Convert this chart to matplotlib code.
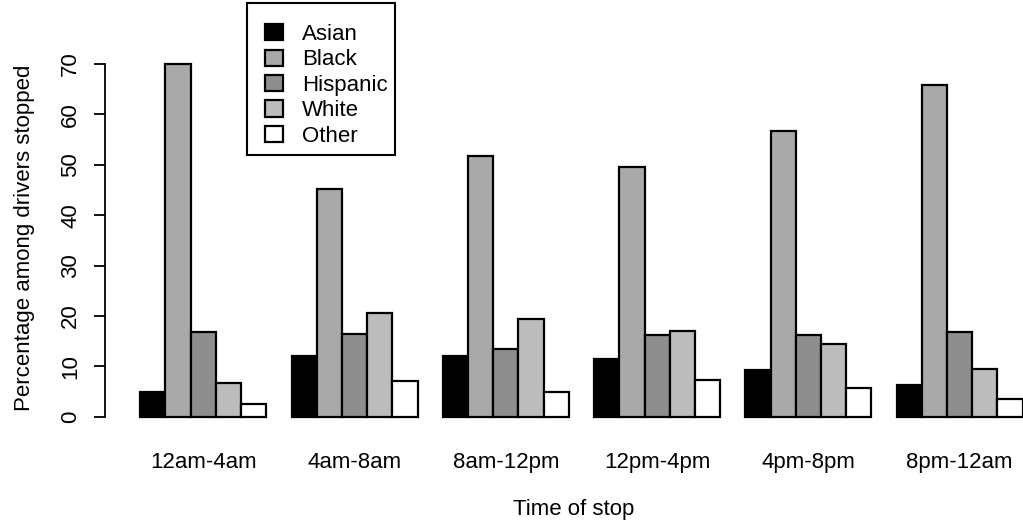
import matplotlib
matplotlib.use("Agg")
import matplotlib.pyplot as plt
from matplotlib.patches import Rectangle
import numpy as np

plt.rcParams["font.family"] = ["Liberation Sans", "DejaVu Sans"]

# Data
time_slots = ["12am-4am", "4am-8am", "8am-12pm", "12pm-4pm", "4pm-8pm", "8pm-12am"]
groups = ["Asian", "Black", "Hispanic", "White", "Other"]
asian = [5.0, 12.0, 12.1, 11.5, 9.3, 6.4]
black = [70.0, 45.3, 51.8, 49.5, 56.7, 65.8]
hispanic = [16.8, 16.5, 13.5, 16.3, 16.2, 16.8]
white = [6.8, 20.6, 19.5, 17.0, 14.4, 9.5]
other = [2.6, 7.2, 5.0, 7.3, 5.8, 3.6]
series = [asian, black, hispanic, white, other]
colors = ["black", "#a9a9a9", "#8e8e8e", "#bcbcbc", "white"]

FS = 16
W, H = 1023, 529

fig = plt.figure(figsize=(W / 100, H / 100), dpi=100)
ax = fig.add_axes([0.1026, 0.1853, 0.9316, 0.7221])

# R-style layout: bars of width 1, one blank unit between groups
n = len(groups)
base = 1 + np.arange(len(time_slots)) * (n + 1)
handles = []
for k, (name, vals, col) in enumerate(zip(groups, series, colors)):
    h = ax.bar(base + k, vals, width=1, align="edge", color=col,
               edgecolor="black", linewidth=1.6, label=name)
    handles.append(h)

ax.set_xlim(-0.4, 37.4)
ax.set_ylim(-2.8, 73)

for s in ["top", "right", "bottom"]:
    ax.spines[s].set_visible(False)
ax.spines["left"].set_bounds(0, 70)
ax.spines["left"].set_linewidth(1.3)

ax.set_yticks(np.arange(0, 71, 10))
ax.tick_params(axis="y", length=8, width=1.3, pad=9, labelsize=FS)
for lab in ax.get_yticklabels():
    lab.set_rotation(90)
    lab.set_verticalalignment("center")

ax.set_xticks(base + n / 2)
ax.set_xticklabels(time_slots)
ax.tick_params(axis="x", length=0, pad=15, labelsize=FS)

fig.text(574 / W, 1 - 510 / H, "Time of stop", ha="center", va="center", fontsize=FS)
fig.text(25 / W, 1 - 238 / H, "Percentage among drivers stopped", ha="center",
         va="center", rotation=90, fontsize=FS)

# legend without its own frame; the box is drawn separately like R's
leg = fig.legend(handles=handles, labels=groups, loc="upper left",
                 bbox_to_anchor=(265 / W, 1 - 24 / H), fontsize=FS,
                 frameon=False, handlelength=0.8, handleheight=0.75,
                 handletextpad=0.85, labelspacing=0.2, borderpad=0,
                 borderaxespad=0)
fig.patches.append(Rectangle((247 / W, 1 - 155 / H), 148 / W, 152 / H,
                             transform=fig.transFigure, fill=False,
                             edgecolor="black", linewidth=1.5))

fig.savefig("out.png", dpi=100)
